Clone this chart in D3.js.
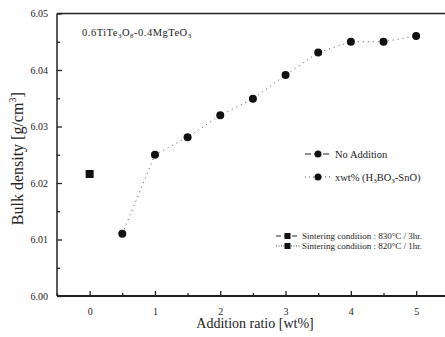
<!DOCTYPE html>
<html>
<head>
<meta charset="utf-8">
<script src="https://cdn.jsdelivr.net/npm/d3@7"></script>
<style>
  body { margin: 0; background: #fff; }
  svg { display: block; font-family: "Liberation Serif", "DejaVu Serif", serif; }
</style>
</head>
<body>
<div id="chart"></div>
<script>
// data
const noAddX = [0];
const noAddY = [6.0216];
const addX = [0.5, 1.0, 1.5, 2.0, 2.5, 3.0, 3.5, 4.0, 4.5, 5.0];
const addY = [6.0110, 6.0250, 6.0281, 6.0320, 6.0349, 6.0391, 6.0431, 6.0450, 6.0450, 6.0460];
const xTicks = [0, 1, 2, 3, 4, 5];
const yTicks = [6.00, 6.01, 6.02, 6.03, 6.04, 6.05];

const W = 445, H = 337;
const margin = { top: 13.5, left: 57, bottom: 41 };

const svg = d3.select("#chart").append("svg")
  .attr("width", W).attr("height", H);

const x = d3.scaleLinear().domain([-0.5, 5.5]).range([margin.left, margin.left + 6 * 65.3]);
const y = d3.scaleLinear().domain([6.00, 6.05]).range([H - margin.bottom, margin.top]);

const x0 = x(-0.5), x1 = x(5.5), yB = y(6.00), yT = y(6.05);

// frame
svg.append("line").attr("x1", x0).attr("x2", x1).attr("y1", yB).attr("y2", yB)
  .attr("stroke", "#222").attr("stroke-width", 2);
svg.append("line").attr("x1", x0).attr("x2", x1).attr("y1", yT).attr("y2", yT)
  .attr("stroke", "#222").attr("stroke-width", 1.5);
svg.append("line").attr("x1", x0).attr("x2", x0).attr("y1", yT).attr("y2", yB)
  .attr("stroke", "#222").attr("stroke-width", 1.5);

// x axis (ticks inward)
svg.append("g").attr("transform", `translate(0,${yB})`)
  .call(d3.axisBottom(x).tickValues(xTicks).tickFormat(d3.format("d")).tickSize(-5).tickPadding(12));
svg.append("g").attr("transform", `translate(0,${yB})`)
  .call(d3.axisBottom(x).tickValues(d3.range(-0.5, 5.6, 0.5).filter(v => !xTicks.includes(v))).tickFormat("").tickSize(-3));

svg.append("g").attr("transform", `translate(${x0},0)`)
  .call(d3.axisLeft(y).tickValues(yTicks).tickFormat(d3.format(".2f")).tickSize(-5).tickPadding(9));
svg.append("g").attr("transform", `translate(${x0},0)`)
  .call(d3.axisLeft(y).tickValues([6.005, 6.015, 6.025, 6.035, 6.045]).tickFormat("").tickSize(-3));

svg.selectAll(".domain").remove();
svg.selectAll(".tick line").attr("stroke", "#222").attr("stroke-width", 1.3);
svg.selectAll(".tick text").attr("font-size", 10).attr("fill", "#222")
  .attr("font-family", "Liberation Serif, serif");

// axis titles
svg.append("text").attr("x", 255).attr("y", 328).attr("text-anchor", "middle")
  .attr("font-size", 14).attr("fill", "#222").text("Addition ratio [wt%]");

const yl = svg.append("text").attr("transform", `translate(23,${(yT + yB) / 2 + 4}) rotate(-90)`)
  .attr("text-anchor", "middle").attr("font-size", 16).attr("fill", "#222");
yl.append("tspan").text("Bulk density [g/cm");
yl.append("tspan").attr("font-size", 10).attr("dy", -7).text("3");
yl.append("tspan").attr("dy", 7).text("]");

// composition label
const comp = svg.append("text").attr("x", 82).attr("y", 36).attr("font-size", 10.5)
  .attr("letter-spacing", 0.5).attr("fill", "#222");
comp.append("tspan").text("0.6TiTe");
comp.append("tspan").attr("font-size", 7).attr("dy", 2).text("3");
comp.append("tspan").attr("dy", -2).text("O");
comp.append("tspan").attr("font-size", 7).attr("dy", 2).text("8");
comp.append("tspan").attr("dy", -2).text("-0.4MgTeO");
comp.append("tspan").attr("font-size", 7).attr("dy", 2).text("3");

// dotted line for addition series
svg.append("path")
  .datum(addX.map((d, i) => [d, addY[i]]))
  .attr("fill", "none").attr("stroke", "#555").attr("stroke-width", 1)
  .attr("stroke-dasharray", "1,4")
  .attr("d", d3.line().x(d => x(d[0])).y(d => y(d[1])));

// markers
svg.selectAll(".sq").data(noAddX).enter().append("rect")
  .attr("x", (d) => x(d) - 4).attr("y", (d, i) => y(noAddY[i]) - 4)
  .attr("width", 8).attr("height", 8).attr("fill", "#111");

svg.selectAll(".dot").data(addX).enter().append("circle")
  .attr("cx", d => x(d)).attr("cy", (d, i) => y(addY[i]))
  .attr("r", 4).attr("fill", "#111");

// legend 1
const lg = svg.append("g").attr("font-size", 10.5).attr("fill", "#222");
lg.append("line").attr("x1", 305).attr("x2", 331).attr("y1", 154).attr("y2", 154)
  .attr("stroke", "#222").attr("stroke-width", 1.2).attr("stroke-dasharray", "6,3");
lg.append("circle").attr("cx", 318).attr("cy", 154).attr("r", 3.5).attr("fill", "#111");
lg.append("text").attr("x", 335).attr("y", 157.5).text("No Addition");

lg.append("line").attr("x1", 305).attr("x2", 331).attr("y1", 177).attr("y2", 177)
  .attr("stroke", "#555").attr("stroke-width", 1).attr("stroke-dasharray", "1,3");
lg.append("circle").attr("cx", 318).attr("cy", 177).attr("r", 3.5).attr("fill", "#111");
const t2 = lg.append("text").attr("x", 335).attr("y", 180.5);
t2.append("tspan").text("xwt% (H");
t2.append("tspan").attr("font-size", 7).attr("dy", 2).text("3");
t2.append("tspan").attr("dy", -2).text("BO");
t2.append("tspan").attr("font-size", 7).attr("dy", 2).text("3");
t2.append("tspan").attr("dy", -2).text("-SnO)");

// legend 2
const lg2 = svg.append("g").attr("font-size", 9).attr("fill", "#222");
lg2.append("line").attr("x1", 276).attr("x2", 300).attr("y1", 236).attr("y2", 236)
  .attr("stroke", "#222").attr("stroke-width", 1.2).attr("stroke-dasharray", "5,3");
lg2.append("rect").attr("x", 284.5).attr("y", 233).attr("width", 6).attr("height", 6).attr("fill", "#111");
lg2.append("text").attr("x", 302).attr("y", 239).text("Sintering condition : 830\u00B0C / 3hr.");

lg2.append("line").attr("x1", 276).attr("x2", 300).attr("y1", 246).attr("y2", 246)
  .attr("stroke", "#444").attr("stroke-width", 1).attr("stroke-dasharray", "1,1.5");
lg2.append("rect").attr("x", 284.5).attr("y", 243).attr("width", 6).attr("height", 6).attr("fill", "#111");
lg2.append("text").attr("x", 302).attr("y", 249).text("Sintering condition : 820\u00B0C / 1hr.");
</script>
</body>
</html>
